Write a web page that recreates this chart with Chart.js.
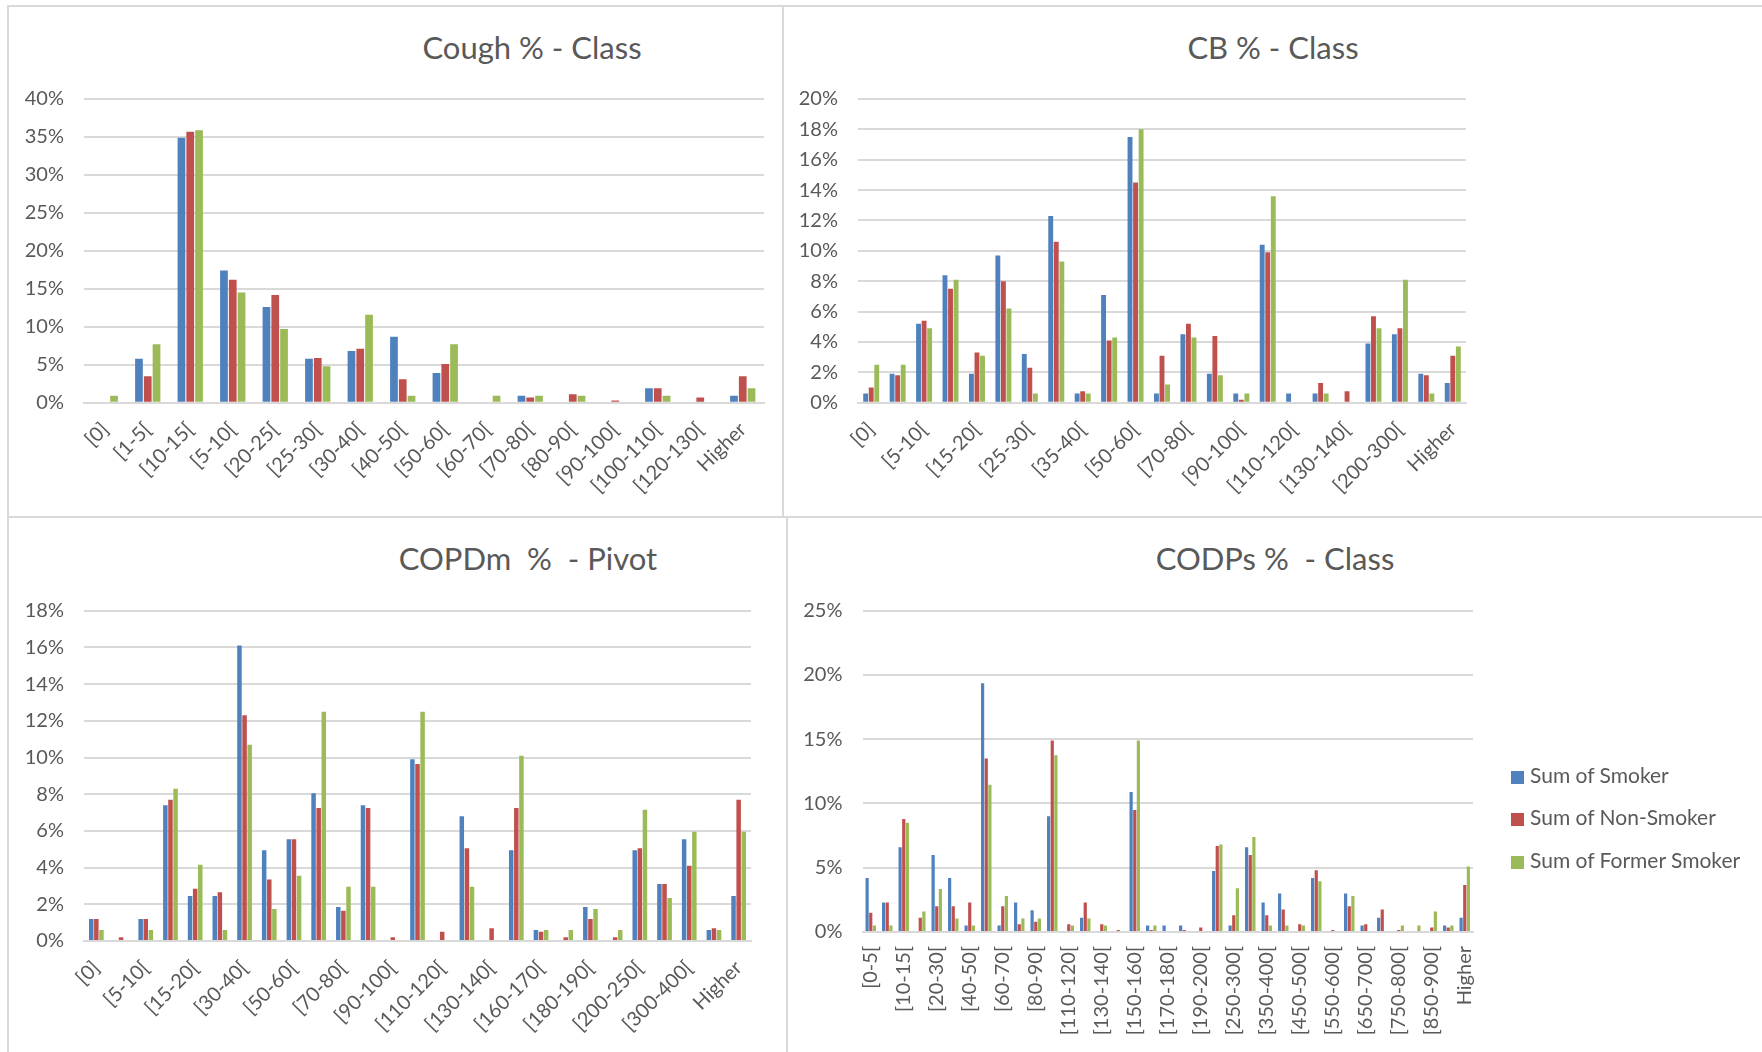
<!DOCTYPE html>
<html>
<head>
<meta charset="utf-8">
<title>Cough / CB / COPD % by class</title>
<script src="https://cdn.jsdelivr.net/npm/chart.js@4.4.1/dist/chart.umd.min.js"></script>
<style>
    body { margin: 0; background: #fff; }
    #page { position: relative; width: 1762px; height: 1052px; overflow: hidden; background: #fff; font-family: Lato, "Open Sans", sans-serif; }
    .line { position: absolute; background: #d9d9d9; }
    canvas { position: absolute; }
    .title { position: absolute; transform: translate(-50%, -50%); font-size: 31px; color: #595959; white-space: pre; }
    .legend-item { position: absolute; left: 1511px; height: 26px; line-height: 26px; font-size: 21px; color: #595959; white-space: nowrap; }
    .legend-item span { display: inline-block; width: 13px; height: 13px; margin-right: 6px; vertical-align: -1px; }
</style>
</head>
<body>
<div id="page">
    <!-- panel frames -->
    <div class="line" style="left:7px; top:5px; width:1755px; height:2px;"></div>
    <div class="line" style="left:7px; top:516px; width:1755px; height:2px;"></div>
    <div class="line" style="left:7px; top:5px; width:2px; height:1047px;"></div>
    <div class="line" style="left:782px; top:5px; width:2px; height:512px;"></div>
    <div class="line" style="left:786px; top:517px; width:2px; height:535px;"></div>

    <div class="title" style="left:532px; top:47px;">Cough % - Class</div>
    <div class="title" style="left:1273px; top:47px;">CB % - Class</div>
    <div class="title" style="left:528px; top:558px;">COPDm  %  - Pivot</div>
    <div class="title" style="left:1275px; top:558px;">CODPs %  - Class</div>

    <canvas id="coughChart"></canvas>
    <canvas id="cbChart"></canvas>
    <canvas id="copdmChart"></canvas>
    <canvas id="codpsChart"></canvas>

    <div id="legend"></div>
</div>

<script>
// series
const seriesNames = ['Sum of Smoker', 'Sum of Non-Smoker', 'Sum of Former Smoker'];
const seriesColors = ['#4f81bd', '#c0504d', '#9bbb59'];

// Cough % - Class
const coughClasses = ['[0]', '[1-5[', '[10-15[', '[5-10[', '[20-25[', '[25-30[', '[30-40[', '[40-50[',
    '[50-60[', '[60-70[', '[70-80[', '[80-90[', '[90-100[', '[100-110[', '[120-130[', 'Higher'];
const coughSmoker = [0, 5.8, 34.9, 17.4, 12.6, 5.8, 6.8, 8.7, 3.9, 0, 0.9, 0, 0, 1.9, 0, 0.9];
const coughNonSmoker = [0, 3.5, 35.7, 16.2, 14.2, 5.9, 7.1, 3.1, 5.1, 0, 0.7, 1.1, 0.3, 1.9, 0.7, 3.5];
const coughFormer = [0.9, 7.7, 35.9, 14.5, 9.7, 4.8, 11.6, 0.9, 7.7, 0.9, 0.9, 0.9, 0, 0.9, 0, 1.9];

// CB % - Class
const cbClasses = ['[0]', '[1-5[', '[5-10[', '[10-15[', '[15-20[', '[20-25[', '[25-30[', '[30-35[',
    '[35-40[', '[40-50[', '[50-60[', '[60-70[', '[70-80[', '[80-90[', '[90-100[', '[100-110[',
    '[110-120[', '[120-130[', '[130-140[', '[140-200[', '[200-300[', '[300-400[', 'Higher'];
const cbSmoker = [0.6, 1.9, 5.2, 8.4, 1.9, 9.7, 3.2, 12.3, 0.6, 7.1, 17.5, 0.6, 4.5, 1.9, 0.6, 10.4, 0.6, 0.6, 0, 3.9, 4.5, 1.9, 1.3];
const cbNonSmoker = [1.0, 1.8, 5.4, 7.5, 3.3, 8.0, 2.3, 10.6, 0.75, 4.1, 14.5, 3.1, 5.2, 4.4, 0.2, 9.9, 0, 1.3, 0.75, 5.7, 4.9, 1.8, 3.1];
const cbFormer = [2.5, 2.5, 4.9, 8.1, 3.1, 6.2, 0.6, 9.3, 0.6, 4.3, 18.0, 1.2, 4.3, 1.8, 0.6, 13.6, 0, 0.6, 0, 4.9, 8.1, 0.6, 3.7];

// COPDm % - Pivot
const copdmClasses = ['[0]', '[1-5[', '[5-10[', '[10-15[', '[15-20[', '[20-30[', '[30-40[', '[40-50[',
    '[50-60[', '[60-70[', '[70-80[', '[80-90[', '[90-100[', '[100-110[', '[110-120[', '[120-130[',
    '[130-140[', '[140-160[', '[160-170[', '[170-180[', '[180-190[', '[190-200[', '[200-250[',
    '[250-300[', '[300-400[', '[400-500[', 'Higher'];
const copdmSmoker = [1.2, 0, 1.2, 7.4, 2.45, 2.45, 16.1, 4.95, 5.55, 8.05, 1.85, 7.4, 0, 9.9, 0, 6.8, 0, 4.95, 0.6, 0, 1.85, 0, 4.95, 3.1, 5.55, 0.6, 2.45];
const copdmNonSmoker = [1.2, 0.2, 1.2, 7.7, 2.85, 2.65, 12.3, 3.35, 5.55, 7.25, 1.65, 7.25, 0.2, 9.65, 0.5, 5.05, 0.7, 7.25, 0.5, 0.2, 1.2, 0.2, 5.05, 3.1, 4.1, 0.7, 7.7];
const copdmFormer = [0.6, 0, 0.6, 8.3, 4.15, 0.6, 10.7, 1.75, 3.55, 12.5, 2.95, 2.95, 0, 12.5, 0, 2.95, 0, 10.1, 0.6, 0.6, 1.75, 0.6, 7.15, 2.35, 5.95, 0.6, 5.95];

// CODPs % - Class
const codpsClasses = ['[0-5[', '[5-10[', '[10-15[', '[15-20[', '[20-30[', '[30-40[', '[40-50[', '[50-60[',
    '[60-70[', '[70-80[', '[80-90[', '[100-110[', '[110-120[', '[120-130[', '[130-140[', '[140-150[',
    '[150-160[', '[160-170[', '[170-180[', '[180-190[', '[190-200[', '[200-250[', '[250-300[',
    '[300-350[', '[350-400[', '[400-450[', '[450-500[', '[500-550[', '[550-600[', '[600-650[',
    '[650-700[', '[700-750[', '[750-800[', '[800-850[', '[850-900[', '[900-1000[', 'Higher'];
const codpsSmoker = [4.2, 2.3, 6.6, 0, 6.0, 4.2, 0.5, 19.35, 0.5, 2.3, 1.7, 9.0, 0, 1.1, 0, 0, 10.9, 0.5, 0.5, 0.5, 0, 4.75, 0.5, 6.6, 2.3, 3.0, 0, 4.2, 0, 3.0, 0.5, 1.1, 0, 0, 0, 0.5, 1.1];
const codpsNonSmoker = [1.5, 2.3, 8.8, 1.1, 2.0, 2.0, 2.3, 13.5, 2.0, 0.6, 0.8, 14.9, 0.6, 2.3, 0.6, 0.15, 9.5, 0.15, 0, 0.15, 0.35, 6.7, 1.3, 6.0, 1.3, 1.75, 0.6, 4.8, 0.15, 2.0, 0.6, 1.75, 0.15, 0, 0.35, 0.35, 3.65];
const codpsFormer = [0.5, 0.5, 8.5, 1.6, 3.35, 1.05, 0.5, 11.45, 2.8, 1.05, 1.05, 13.75, 0.5, 1.05, 0.5, 0, 14.9, 0.5, 0, 0, 0, 6.8, 3.4, 7.4, 0.5, 0.5, 0.5, 3.95, 0, 2.8, 0, 0, 0.5, 0.5, 1.6, 0.5, 5.1];

const textColor = '#595959';
const gridColor = '#d9d9d9';
const tickFont = { family: 'Lato', size: 20 };

// box = canvas [left, top, width, height], plot = chart area [left, top, right, bottom] (page px)
const panels = [
    { id: 'coughChart', box: [9, 8, 772, 507], plot: [84, 99, 764, 402.7],
      labels: coughClasses, values: [coughSmoker, coughNonSmoker, coughFormer],
      max: 40, step: 5, rotation: 45, every: 1, group: 0.62, labelPad: 15 },
    { id: 'cbChart', box: [786, 8, 972, 507], plot: [858, 99, 1466, 402.7],
      labels: cbClasses, values: [cbSmoker, cbNonSmoker, cbFormer],
      max: 20, step: 2, rotation: 45, every: 2, group: 0.63, labelPad: 15 },
    { id: 'copdmChart', box: [9, 519, 776, 531], plot: [84, 610.7, 751, 941],
      labels: copdmClasses, values: [copdmSmoker, copdmNonSmoker, copdmFormer],
      max: 18, step: 2, rotation: 45, every: 2, group: 0.62, labelPad: 15 },
    { id: 'codpsChart', box: [789, 519, 970, 531], plot: [862.5, 610.7, 1473, 932],
      labels: codpsClasses, values: [codpsSmoker, codpsNonSmoker, codpsFormer],
      max: 25, step: 5, rotation: 90, every: 2, group: 0.66, labelPad: 14 }
];

panels.forEach(function (p) {
    const canvas = document.getElementById(p.id);
    const [left, top, width, height] = p.box;
    const [x0, y0, x1, y1] = p.plot;
    canvas.width = width;
    canvas.height = height;
    canvas.style.left = left + 'px';
    canvas.style.top = top + 'px';

    new Chart(canvas, {
        type: 'bar',
        data: {
            labels: p.labels,
            datasets: p.values.map(function (values, k) {
                return {
                    label: seriesNames[k],
                    data: values,
                    backgroundColor: seriesColors[k],
                    barPercentage: 0.88,
                    categoryPercentage: p.group
                };
            })
        },
        options: {
            responsive: false,
            animation: false,
            layout: {
                padding: { left: 0, top: y0 - top, right: left + width - x1, bottom: 0 }
            },
            plugins: {
                legend: { display: false },
                tooltip: { enabled: false }
            },
            scales: {
                x: {
                    grid: { display: false, drawTicks: false },
                    border: { display: true, color: gridColor, width: 2 },
                    ticks: {
                        autoSkip: false,
                        minRotation: p.rotation,
                        maxRotation: p.rotation,
                        padding: p.labelPad,
                        color: textColor,
                        font: tickFont,
                        // only every other class name is printed on the crowded charts
                        callback: function (value, index) {
                            return index % p.every === 0 ? p.labels[index] : '';
                        }
                    },
                    afterFit: function (scale) { scale.height = top + height - y1; }
                },
                y: {
                    min: 0,
                    max: p.max,
                    grid: { color: gridColor, lineWidth: 2, drawTicks: false },
                    border: { display: false },
                    ticks: {
                        stepSize: p.step,
                        padding: 20,
                        color: textColor,
                        font: tickFont,
                        callback: function (value) { return value + '%'; }
                    },
                    afterFit: function (scale) { scale.width = x0 - left; }
                }
            }
        }
    });
});

// legend for the CODPs chart
const legend = document.getElementById('legend');
const legendTops = [762, 804, 847];
seriesNames.forEach(function (name, k) {
    const item = document.createElement('div');
    item.className = 'legend-item';
    item.style.top = legendTops[k] + 'px';
    item.innerHTML = '<span style="background:' + seriesColors[k] + '"></span>' + name;
    legend.appendChild(item);
});
</script>
</body>
</html>
